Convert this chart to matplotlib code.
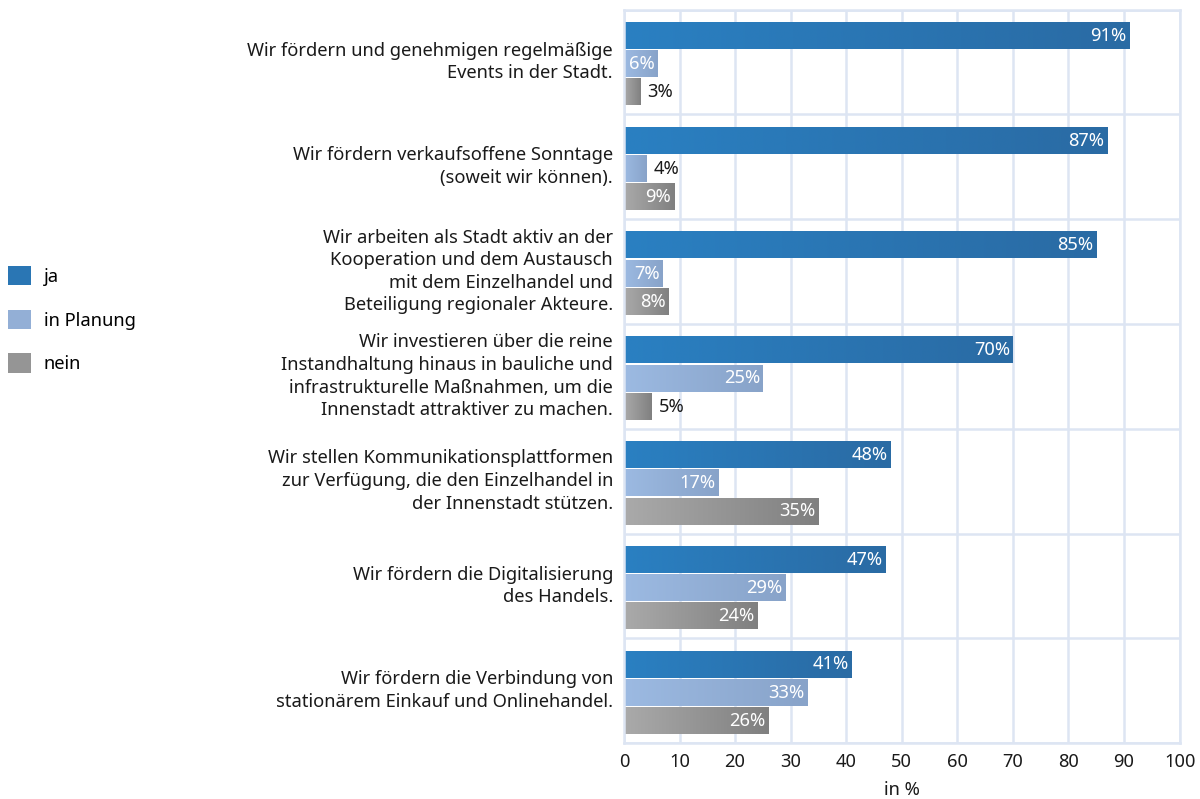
import numpy as np
import matplotlib.pyplot as plt
from matplotlib.colors import LinearSegmentedColormap
from matplotlib.patches import Patch

plt.rcParams['font.family'] = ['Noto Sans', 'DejaVu Sans']

# Aussagen (von oben nach unten)
categories = [
    "Wir fördern und genehmigen regelmäßige\nEvents in der Stadt.",
    "Wir fördern verkaufsoffene Sonntage\n(soweit wir können).",
    "Wir arbeiten als Stadt aktiv an der\nKooperation und dem Austausch\nmit dem Einzelhandel und\nBeteiligung regionaler Akteure.",
    "Wir investieren über die reine\nInstandhaltung hinaus in bauliche und\ninfrastrukturelle Maßnahmen, um die\nInnenstadt attraktiver zu machen.",
    "Wir stellen Kommunikationsplattformen\nzur Verfügung, die den Einzelhandel in\nder Innenstadt stützen.",
    "Wir fördern die Digitalisierung\ndes Handels.",
    "Wir fördern die Verbindung von\nstationärem Einkauf und Onlinehandel.",
]
series_names = ["ja", "in Planung", "nein"]
ja = [91, 87, 85, 70, 48, 47, 41]
planung = [6, 4, 7, 25, 17, 29, 33]
nein = [3, 9, 8, 5, 35, 24, 26]

# Farbverläufe je Serie (links -> rechts)
grad_colors = [("#2a80c2", "#2a6ba4"), ("#9cbae2", "#88a3c9"), ("#aaaaaa", "#808080")]
legend_colors = ["#2a76b4", "#93afd6", "#959595"]

FS = 13.2

fig = plt.figure(figsize=(12, 7.99), dpi=100)
ax = fig.add_axes([0.52, 0.070, 0.463, 0.918])

n = len(categories)
y_base = np.arange(n)
offsets = [-0.25, 0.02, 0.29]
bar_h = 0.25

grad = np.linspace(0, 1, 256).reshape(1, -1)
for s, values in enumerate([ja, planung, nein]):
    cmap = LinearSegmentedColormap.from_list("g%d" % s, grad_colors[s])
    for i, v in enumerate(values):
        yc = y_base[i] + offsets[s]
        ax.imshow(grad, extent=[0, v, yc + bar_h / 2, yc - bar_h / 2],
                  cmap=cmap, aspect='auto', interpolation='bicubic', zorder=2)
        if v >= 6:
            ax.annotate(f"{v}%", (v, yc), xytext=(-2, 0), textcoords='offset points',
                        ha='right', va='center', color='white', fontsize=FS, zorder=3)
        else:
            ax.annotate(f"{v}%", (v, yc), xytext=(5, 0), textcoords='offset points',
                        ha='left', va='center', color='#1a1a1a', fontsize=FS, zorder=3)

ax.set_xlim(0, 100)
ax.set_ylim(n - 0.5, -0.5)
ax.set_xticks(np.arange(0, 101, 10))
ax.set_yticks(np.arange(-0.5, n, 1))
ax.set_yticklabels([])
ax.grid(True, color='#dde5f3', linewidth=1.8, zorder=0)
ax.set_axisbelow(True)
for sp in ax.spines.values():
    sp.set_color('#dde5f3')
    sp.set_linewidth(1.8)
ax.tick_params(axis='both', length=0, labelsize=FS, colors='#1a1a1a', pad=7)
ax.set_xlabel("in %", fontsize=FS, color='#1a1a1a', labelpad=7)

for i, label in enumerate(categories):
    ax.annotate(label, (0, y_base[i]), xytext=(-8, 0), textcoords='offset points',
                ha='right', va='center', multialignment='right',
                fontsize=FS, color='#1a1a1a', linespacing=1.33, annotation_clip=False)

handles = [Patch(facecolor=c, edgecolor='none') for c in legend_colors]
fig.legend(handles, series_names, loc='center left', bbox_to_anchor=(-0.007, 0.6),
           frameon=False, fontsize=FS, handlelength=1.25, handleheight=1.25,
           labelspacing=1.3, handletextpad=0.7)

fig.savefig("out.png", dpi=100)
